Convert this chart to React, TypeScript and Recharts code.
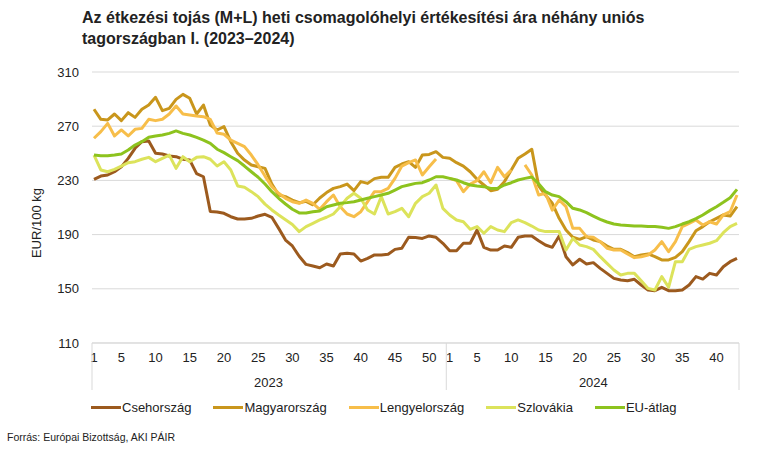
import React from "react"
import { LineChart, Line, XAxis, YAxis, CartesianGrid } from "recharts"

const years = ["2023", "2024"]
const weeksPerYear = [52, 43]
const weekTickLabels = [1, 5, 10, 15, 20, 25, 30, 35, 40, 45, 50]
const yTicks = [110, 150, 190, 230, 270, 310]

// EUR/100 kg, 2023 hét 1–52, majd 2024 hét 1–43
const cseh = [
  230.8, 233.2, 234, 236.4, 240, 246.3, 253.7, 258.6, 259, 250, 249.5, 248, 247.5, 245.6, 245, 235, 232.7, 207,
  206.7, 205.7, 203.2, 201.5, 201.5, 202, 203.7, 205, 202.8, 194.6, 186, 181.6, 174, 168, 166.8, 165.5, 168.3,
  166.8, 175.7, 176.2, 175.7, 170.5, 172.5, 175, 175, 175.5, 179.1, 179.9, 188, 187.8, 187.2, 189, 188, 183.6,
  178.1, 178.1, 183.6, 183.6, 193.4, 180.6, 178.6, 178.6, 181.6, 180.6, 188, 189, 189, 185.5, 182.3, 180.6, 189,
  173.7, 167.6, 171.8, 168.3, 169.3, 165.1, 161.4, 157.7, 156.5, 156, 157, 152.8, 149.1, 148.6, 151.1, 148.6,
  148.6, 149.1, 152.8, 159, 157.2, 161.4, 160.2, 166.3, 170, 172.5,
]
const magyar = [
  282.5, 275.1, 274.6, 279, 274.1, 280, 276.5, 282.5, 285.6, 291.3, 281.5, 283.2, 289.8, 293.5, 290.6, 279, 285.6,
  270.9, 267.2, 269.7, 258.6, 250, 245, 241.4, 240.1, 238.9, 227.3, 219.2, 218, 215.5, 213.5, 214.5, 212, 217, 221,
  224.1, 225.4, 227.3, 222.4, 229.1, 227.8, 231.3, 232.3, 232.3, 239.6, 242.1, 243.8, 239.6, 248.7, 249.2, 251.2,
  247, 246.3, 243.1, 240.6, 236.4, 230.8, 226.6, 222.4, 223.4, 229.1, 237.7, 246.3, 249.5, 253, 226, 219.2, 213.1,
  202, 193.4, 188, 186.5, 188.5, 186, 184.8, 181.6, 179.1, 179.1, 176.7, 173.7, 175, 175.7, 173.7, 171.3, 171.3,
  173.2, 177.4, 184.8, 192.9, 195.9, 199.5, 202, 204.5, 203.7, 210.6,
]
const lengyel = [
  261.1, 266, 272.1, 262.8, 267.2, 262.8, 267.7, 268.4, 275.1, 274.1, 275.1, 279, 284.9, 279, 278.3, 277.5, 277,
  275, 265, 264, 259.8, 257.4, 254.9, 248.7, 241.4, 233.2, 225.4, 220.5, 216.8, 214.3, 213.1, 215.5, 213.1, 208.7,
  214.3, 219.2, 210.6, 205.2, 203.2, 206.9, 214.3, 221.7, 221.7, 224.1, 231.5, 240.6, 243.1, 245.1, 234, 240.1,
  245.8, null, 231.5, 229.8, 221.7, 227.3, 229.8, 236.4, 228.3, 239.6, 232.7, 237.7, null, 241.4, 234, 219.2,
  220.5, 208, 215.5, 210.6, 194.6, 194.6, 188.5, 188, 184.8, 179.9, 178.6, 178.6, 175.7, 173, 173.7, 175, 178.6,
  184.8, 177.4, 184.8, 195.9, 198.3, 200.8, 197.1, 199.5, 197.8, 204.5, 206.9, 219.2,
]
const szlovakia = [
  248.7, 237.7, 236.4, 238.2, 240.6, 243.1, 243.8, 245.6, 247, 243.8, 246.3, 248.7, 238.9, 247.5, 243.8, 247,
  247.5, 245.6, 240.6, 243.8, 237.7, 225.9, 224.9, 221.7, 218, 212.5, 208.2, 204.5, 201, 197.5, 192.2, 195.9,
  198.3, 200.8, 202.8, 205.2, 210.6, 216.8, 220.5, 216.8, 208.2, 205.2, 218, 205.2, 206.9, 209.4, 203.2, 213.1,
  218, 220.5, 226.6, 209.4, 204.5, 200.8, 199.5, 193.9, 195.9, 191, 195.9, 193.4, 192.2, 198.8, 200.8, 198.8,
  196.3, 193.4, 192.2, 192.2, 192.2, 178.6, 187.2, 182.3, 181.1, 179.1, 173.7, 168.8, 163.9, 160.2, 161.4, 161.4,
  156, 150.3, 149.1, 159, 151.1, 170, 170, 179.1, 181.1, 182.3, 183.6, 185.5, 191.4, 195.9, 198.3,
]
const euAtlag = [
  248.7, 248.2, 248.2, 248.7, 249.5, 252.4, 256.1, 258.6, 261.8, 262.8, 263.5, 264.7, 266.5, 264.7, 263.5, 261.8,
  259.8, 257.4, 253, 250.5, 247.5, 244.6, 240.6, 236.4, 232.3, 227.3, 221.7, 216.8, 212.6, 208.7, 206, 206, 206.9,
  207.5, 210.6, 211.8, 213.1, 213.6, 214.3, 215.5, 216.8, 218, 219.2, 220.5, 222.9, 225.4, 226.6, 227.8, 228.3,
  230.3, 232.7, 232.7, 231.5, 230.3, 228.3, 226.6, 225.9, 225.4, 224.1, 224.1, 226.6, 228.3, 230.3, 231.5, 232.5,
  227.5, 221.7, 219.2, 218, 214.3, 209.4, 208.2, 206.2, 203.7, 201.3, 199.3, 197.8, 197.1, 196.8, 196.3, 196.3,
  196, 195.9, 195.4, 194.6, 195.9, 197.8, 199.5, 201.8, 204.5, 207.7, 210.6, 213.8, 217.2, 223.4,
]

const series = [
  { key: "cseh", name: "Csehország", color: "#9C5A1E", values: cseh },
  { key: "magyar", name: "Magyarország", color: "#C9961C", values: magyar },
  { key: "lengyel", name: "Lengyelország", color: "#F7BE4A", values: lengyel },
  { key: "szlovakia", name: "Szlovákia", color: "#DCE35B", values: szlovakia },
  { key: "eu", name: "EU-átlag", color: "#8DC31E", values: euAtlag },
]

const FONT = "'Liberation Sans', Arial, sans-serif"

type Row = { idx: number; week: number; year: string; [k: string]: number | string | null }

const data: Row[] = []
const weekTicks: number[] = []
const yearCenters: number[] = []
const yearBounds: number[] = []
{
  let idx = 0
  years.forEach((year, yi) => {
    const n = weeksPerYear[yi]
    yearCenters.push(idx - 0.5 + n / 2)
    if (yi > 0) yearBounds.push(idx - 0.5)
    weekTickLabels.filter((w) => w <= n).forEach((w) => weekTicks.push(idx + w - 1))
    for (let w = 1; w <= n; w++) {
      const row: Row = { idx, week: w, year }
      series.forEach((s) => (row[s.key] = s.values[idx] ?? null))
      data.push(row)
      idx++
    }
  })
}
const lastIdx = data.length - 1
const yearTicks = [0, ...yearBounds, lastIdx, ...yearCenters]

function YearTick(props: any) {
  const { x, y, payload } = props
  const v = payload.value
  const ci = yearCenters.indexOf(v)
  if (ci >= 0) {
    return (
      <text x={x} y={y + 13.5} textAnchor="middle" fontSize={13} fill="#222" fontFamily={FONT}>
        {years[ci]}
      </text>
    )
  }
  const dx = v === 0 ? -2 : v === lastIdx ? 2 : 0
  return <line x1={x + dx} x2={x + dx} y1={y - 30} y2={y + 17} stroke="#d9d9d9" strokeWidth={1} />
}

export default function App() {
  return (
    <div
      style={{
        position: "absolute",
        left: 0,
        top: 0,
        width: 768,
        height: 464,
        background: "#fff",
        fontFamily: FONT,
        overflow: "hidden",
      }}
    >
      <div
        style={{
          position: "absolute",
          left: 82,
          top: 7,
          fontSize: 16,
          lineHeight: "21px",
          fontWeight: "bold",
          color: "#222",
          whiteSpace: "nowrap",
        }}
      >
        Az étkezési tojás (M+L) heti csomagolóhelyi értékesítési ára néhány uniós
        <br />
        tagországban I. (2023–2024)
      </div>

      <LineChart width={768} height={464} data={data} margin={{ top: 72, right: 29, bottom: 51, left: 0 }}>
        <CartesianGrid vertical={false} stroke="#d9d9d9" />
        <XAxis
          dataKey="idx"
          type="number"
          domain={[0, lastIdx]}
          ticks={weekTicks}
          interval={0}
          tickFormatter={(v: number) => String(data[v]?.week ?? "")}
          padding={{ left: 2, right: 2 }}
          axisLine={{ stroke: "#d9d9d9" }}
          tickLine={false}
          tickSize={0}
          tickMargin={10}
          height={30}
          tick={{ fontSize: 13, fill: "#222", fontFamily: FONT }}
        />
        <XAxis
          xAxisId="year"
          dataKey="idx"
          type="number"
          domain={[0, lastIdx]}
          ticks={yearTicks}
          interval={0}
          padding={{ left: 2, right: 2 }}
          axisLine={false}
          tickLine={false}
          tickSize={0}
          tickMargin={0}
          height={40}
          tick={<YearTick />}
        />
        <YAxis
          domain={[110, 310]}
          ticks={yTicks}
          interval={0}
          axisLine={false}
          tickLine={false}
          tickSize={0}
          tickMargin={13}
          width={92}
          tick={{ fontSize: 13, fill: "#222", fontFamily: FONT }}
          label={{
            content: () => (
              <text
                x={36}
                y={223}
                transform="rotate(-90 36 223)"
                textAnchor="middle"
                dominantBaseline="central"
                fontSize={13}
                fill="#222"
                fontFamily={FONT}
              >
                EUR/100 kg
              </text>
            ),
          }}
        />
        {series.map((s) => (
          <Line
            key={s.key}
            type="linear"
            dataKey={s.key}
            name={s.name}
            stroke={s.color}
            strokeWidth={3}
            strokeLinejoin="round"
            dot={false}
            activeDot={false}
            isAnimationActive={false}
          />
        ))}
      </LineChart>

      <div
        style={{
          position: "absolute",
          left: 91,
          top: 400,
          display: "flex",
          gap: 22,
          fontSize: 13,
          color: "#222",
          alignItems: "center",
          whiteSpace: "nowrap",
        }}
      >
        {series.map((s) => (
          <div key={s.key} style={{ display: "flex", alignItems: "center" }}>
            <span style={{ display: "inline-block", width: 30, height: 3, background: s.color, marginRight: 1 }} />
            <span>{s.name}</span>
          </div>
        ))}
      </div>

      <div style={{ position: "absolute", left: 7, top: 431, fontSize: 10.5, lineHeight: "12px", color: "#222" }}>
        Forrás: Európai Bizottság, AKI PÁIR
      </div>
    </div>
  )
}
